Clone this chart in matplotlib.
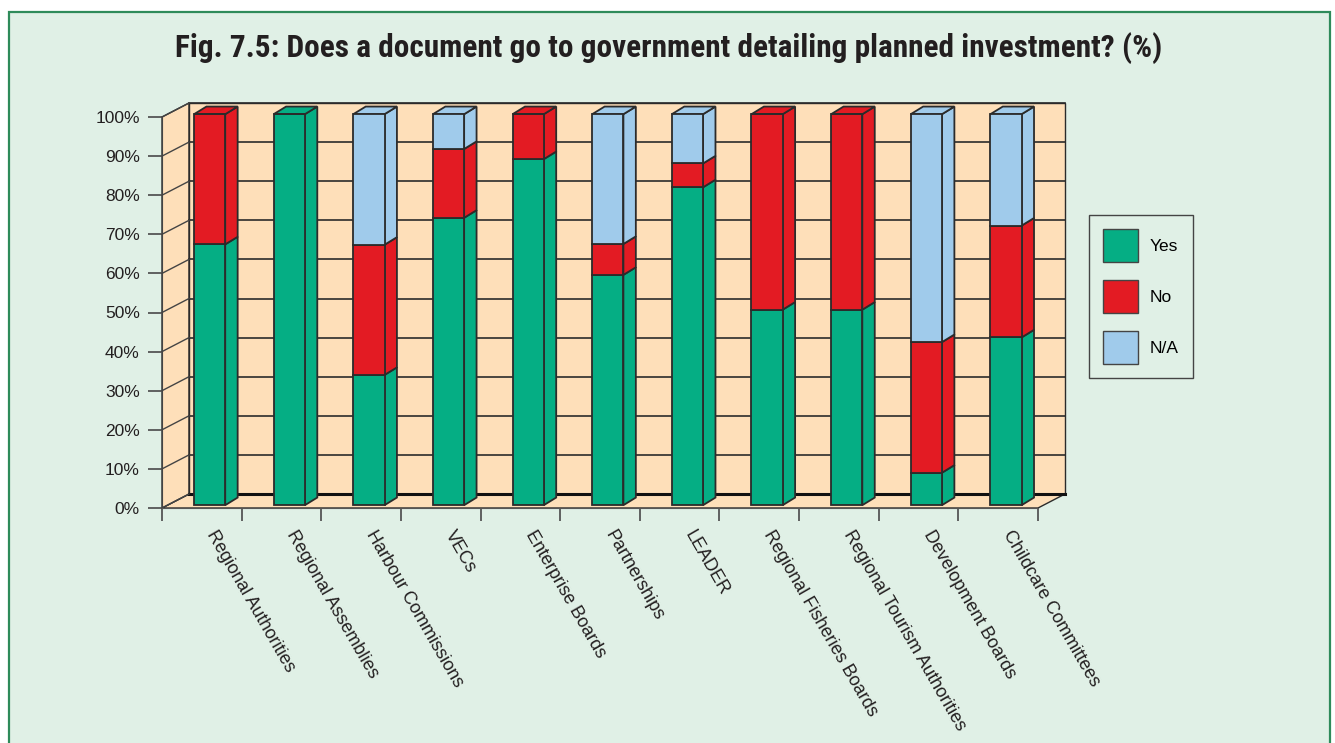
import numpy as np
import matplotlib
matplotlib.use("Agg")
import matplotlib.pyplot as plt
from matplotlib.patches import Polygon, Rectangle, Patch

plt.rcParams['font.family'] = ['Liberation Sans', 'DejaVu Sans']

# Survey results (%) per body type
categories = [
    "Regional Authorities", "Regional Assemblies", "Harbour Commissions",
    "VECs", "Enterprise Boards", "Partnerships", "LEADER",
    "Regional Fisheries Boards", "Regional Tourism Authorities",
    "Development Boards", "Childcare Committees",
]
yes_pct = [66.7, 100.0, 33.3, 73.5, 88.5, 58.9, 81.3, 50.0, 50.0, 8.3, 42.9]
no_pct = [33.3, 0.0, 33.3, 17.6, 11.5, 7.9, 6.1, 50.0, 50.0, 33.4, 28.6]
na_pct = [0.0, 0.0, 33.4, 8.9, 0.0, 33.2, 12.6, 0.0, 0.0, 58.3, 28.5]
series_names = ["Yes", "No", "N/A"]
y_ticks = list(range(0, 101, 10))

GREEN = "#05AE84"
RED = "#E31B23"
BLUE = "#A0CBEB"
PEACH = "#FEDFB9"
MINT = "#E0F0E6"
EDGE = "#2b2b2b"

W, H = 1335, 743
fig = plt.figure(figsize=(W / 100, H / 100), dpi=100, facecolor="white")

# green-bordered panel behind everything
fig.patches.append(Rectangle((9 / W, -0.02), (1330 - 9) / W, 1 - 12 / H + 0.02,
                             transform=fig.transFigure, facecolor=MINT,
                             edgecolor="#2E8B5A", linewidth=1.6, zorder=-5))

fig.text(669 / W, 1 - 48 / H,
         "Fig. 7.5: Does a document go to government detailing planned investment? (%)",
         ha="center", va="center", fontsize=22.5, fontweight="bold",
         family=["Roboto Condensed", "Archivo Narrow", "PT Sans Narrow", "DejaVu Sans"],
         color="#231f20")

ax = fig.add_axes([162 / W, 1 - 508 / H, (1038 - 162) / W, (508 - 117) / H])
ax.set_xlim(0, len(categories))
ax.set_ylim(0, 100)
ax.patch.set_visible(False)

# depth of the box (walls) and of the bars, in data units
wdx, wdy = 0.339, 3.58
bar_x0, bar_w, bar_z = 0.402, 0.392, 0.72
bdx, bdy = 0.156, 1.95
n = len(categories)

# floor, left wall, back wall
box_kw = dict(facecolor=PEACH, edgecolor=EDGE, linewidth=1.0, clip_on=False, zorder=1)
ax.add_patch(Polygon([(0, 0), (n, 0), (n + wdx, wdy), (wdx, wdy)], **box_kw))
ax.add_patch(Polygon([(0, 0), (wdx, wdy), (wdx, 100 + wdy), (0, 100)], **box_kw))
ax.add_patch(Polygon([(wdx, wdy), (n + wdx, wdy), (n + wdx, 100 + wdy), (wdx, 100 + wdy)],
                     **box_kw))

# gridlines on the back and left walls
for v in y_ticks:
    lw = 2.2 if v == 0 else 1.2
    ax.plot([wdx, n + wdx], [v + wdy, v + wdy], color=EDGE if v else "#111111",
            lw=lw, clip_on=False, zorder=2)
    ax.plot([0, wdx], [v, v + wdy], color="#444444", lw=1.0, clip_on=False, zorder=2)

# stacked 3D bars
x = np.arange(n)
series = [np.array(yes_pct), np.array(no_pct), np.array(na_pct)]
colors = [GREEN, RED, BLUE]
bottom = np.zeros(n)
for vals, col in zip(series, colors):
    ax.bar(x + bar_x0, vals, width=bar_w, bottom=bottom + bar_z, align="edge",
           color=col, edgecolor=EDGE, linewidth=1.3, zorder=4, clip_on=False)
    for i in range(n):
        if vals[i] <= 0:
            continue
        xr = x[i] + bar_x0 + bar_w
        b = bottom[i] + bar_z
        t = b + vals[i]
        ax.add_patch(Polygon([(xr, b), (xr + bdx, b + bdy), (xr + bdx, t + bdy), (xr, t)],
                             facecolor=col, edgecolor=EDGE, linewidth=1.3,
                             zorder=3, clip_on=False))
    bottom = bottom + vals

# top caps take the colour of the uppermost segment
for i in range(n):
    top_col = [c for v, c in zip(series, colors) if v[i] > 0][-1]
    xl = x[i] + bar_x0
    xr = xl + bar_w
    t = bottom[i] + bar_z
    ax.add_patch(Polygon([(xl, t), (xl + bdx, t + bdy), (xr + bdx, t + bdy), (xr, t)],
                         facecolor=top_col, edgecolor=EDGE, linewidth=1.3,
                         zorder=3, clip_on=False))

# axes
for s in ["top", "right"]:
    ax.spines[s].set_visible(False)
ax.spines["left"].set_color("#444444")
ax.spines["bottom"].set_color("#555555")
ax.spines["left"].set_zorder(2)
ax.spines["bottom"].set_zorder(2)
ax.set_yticks(y_ticks)
ax.set_yticklabels([f"{v}%" for v in y_ticks])
ax.tick_params(axis="y", length=10, width=1.3, color="#555555", labelsize=12.5,
               pad=6, labelcolor="#231f20")
ax.set_xticks(np.arange(n + 1))
ax.set_xticklabels([])
# category names hang from just right of each slot's centre
ax.set_xticks(x + 0.7, minor=True)
ax.set_xticklabels(categories, minor=True)
ax.tick_params(axis="x", which="major", length=9, width=1.3, color="#555555")
ax.tick_params(axis="x", which="minor", length=0, pad=14, labelsize=13,
               labelcolor="#231f20")
plt.setp(ax.get_xticklabels(minor=True), rotation=-60, ha="left", va="top",
         rotation_mode="anchor")

handles = [Patch(facecolor=c, edgecolor="#444444", linewidth=1.0) for c in colors]
fig.legend(handles, series_names, loc="upper left",
           bbox_to_anchor=(1089 / W, 1 - 215 / H), borderaxespad=0,
           fontsize=12.5, frameon=True, fancybox=False, facecolor=MINT,
           edgecolor="#444444", framealpha=1, handlelength=2.0, handleheight=2.6,
           labelspacing=1.0, handletextpad=0.7, borderpad=0.8)

fig.savefig("out.png", dpi=100, facecolor=fig.get_facecolor())
